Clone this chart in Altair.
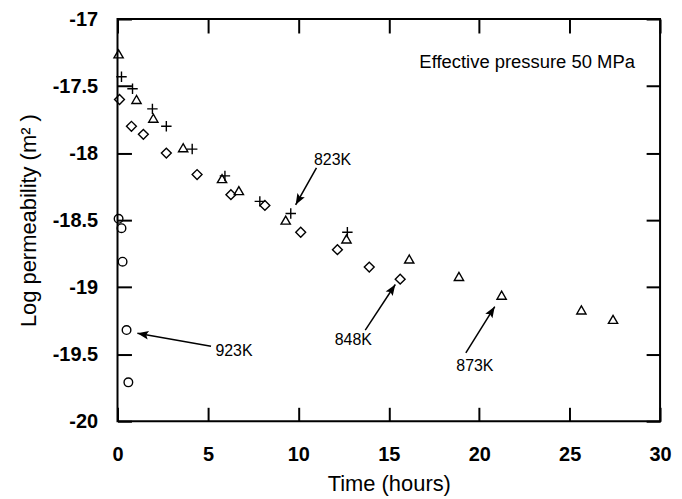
import math
import altair as alt
import pandas as pd

# ---- data ----
t873_x = [0.06, 1.05, 1.98, 3.63, 5.78, 6.71, 9.30, 12.66, 16.13, 18.88, 21.24, 25.65, 27.40]
t873_y = [-17.26, -17.60, -17.74, -17.96, -18.19, -18.28, -18.50, -18.64, -18.79, -18.92, -19.06, -19.17, -19.24]
p823_x = [0.22, 0.83, 1.93, 2.70, 4.13, 5.94, 7.87, 9.58, 12.71]
p823_y = [-17.43, -17.52, -17.67, -17.80, -17.97, -18.17, -18.36, -18.45, -18.59]
d848_x = [0.11, 0.77, 1.43, 2.70, 4.40, 6.27, 8.15, 10.13, 12.16, 13.92, 15.63]
d848_y = [-17.60, -17.80, -17.86, -18.00, -18.16, -18.31, -18.39, -18.59, -18.72, -18.85, -18.94]
c923_x = [0.06, 0.22, 0.28, 0.50, 0.60]
c923_y = [-18.49, -18.56, -18.81, -19.32, -19.71]

series_names = ["823K", "848K", "873K", "923K"]
x_ticks = [0, 5, 10, 15, 20, 25, 30]
y_ticks = [-20, -19.5, -19, -18.5, -18, -17.5, -17]

# annotation labels and arrows (tail -> tip), in data units
ann_labels = ["823K", "848K", "873K", "923K"]
ann_text_x = [11.89, 13.04, 19.76, 6.44]
ann_text_y = [-18.054, -19.395, -19.587, -19.477]
arrow_x1 = [11.0, 13.7, 19.26, 5.17]
arrow_y1 = [-18.11, -19.32, -19.49, -19.44]
arrow_x2 = [9.85, 15.36, 20.86, 1.10]
arrow_y2 = [-18.386, -18.98, -19.145, -19.344]
note_text = "Effective pressure 50 MPa"
note_x, note_y = 22.65, -17.317

W, H = 545, 404
XD, YD = [0, 30], [-20, -17]
FONT = "Liberation Sans"

rows = []
for name, xs, ys in [("823K", p823_x, p823_y), ("848K", d848_x, d848_y),
                     ("873K", t873_x, t873_y), ("923K", c923_x, c923_y)]:
    for a, b in zip(xs, ys):
        rows.append({"t": a, "k": b, "s": name})
pts = pd.DataFrame(rows)

ann = pd.DataFrame({"x": ann_text_x, "y": ann_text_y, "label": ann_labels})
angles = []
for a1, b1, a2, b2 in zip(arrow_x1, arrow_y1, arrow_x2, arrow_y2):
    dx = (a2 - a1) * W / (XD[1] - XD[0])
    dy = -(b2 - b1) * H / (YD[1] - YD[0])
    angles.append(math.degrees(math.atan2(dx, -dy)) % 360)
arr = pd.DataFrame({"x": arrow_x1, "y": arrow_y1, "x2": arrow_x2, "y2": arrow_y2, "ang": angles})
note = pd.DataFrame({"x": [note_x], "y": [note_y], "label": [note_text]})

xs = alt.Scale(domain=XD, nice=False, zero=False, padding=0)
ys = alt.Scale(domain=YD, nice=False, zero=False, padding=0)

TL = 14
x_axis = alt.Axis(values=x_ticks, domain=False, grid=False, tickSize=TL, tickWidth=2,
                  tickColor="black", offset=-TL, labelPadding=23, labelFont=FONT,
                  labelFontSize=20, labelFontWeight="bold", labelColor="black",
                  labelFlush=False, labelOverlap=False,
                  title="Time  (hours)", titleFont=FONT, titleFontSize=22,
                  titleFontWeight="normal", titleColor="black", titlePadding=10,
                  labelExpr="datum.value + ''")
y_axis = alt.Axis(values=y_ticks, domain=False, grid=False, tickSize=TL, tickWidth=2,
                  tickColor="black", offset=-TL, labelPadding=20, labelFont=FONT,
                  labelFontSize=20, labelFontWeight="bold", labelColor="black",
                  labelFlush=False, labelOverlap=False,
                  title="Log permeability (m² )", titleFont=FONT, titleFontSize=22,
                  titleFontWeight="normal", titleColor="black", titlePadding=12,
                  labelExpr="datum.value + ''")
x_top = alt.Axis(values=x_ticks, orient="top", domain=False, grid=False, tickSize=TL,
                 tickWidth=2, tickColor="black", offset=-TL, labels=False, title=None)
y_right = alt.Axis(values=y_ticks, orient="right", domain=False, grid=False, tickSize=TL,
                   tickWidth=2, tickColor="black", offset=-TL, labels=False, title=None)

cross = "M-1,0L1,0M0,-1L0,1"
points = alt.Chart(pts).mark_point(filled=False, color="black", strokeWidth=1.4, opacity=1).encode(
    x=alt.X("t:Q", scale=xs, axis=x_axis),
    y=alt.Y("k:Q", scale=ys, axis=y_axis),
    shape=alt.Shape("s:N", scale=alt.Scale(domain=series_names,
                    range=[cross, "diamond", "triangle-up", "circle"]), legend=None),
    size=alt.Size("s:N", scale=alt.Scale(domain=series_names, range=[110, 75, 95, 70]), legend=None),
)

frame_axes = alt.Chart(pts).mark_point(opacity=0).encode(
    x=alt.X("t:Q", scale=xs, axis=x_top),
    y=alt.Y("k:Q", scale=ys, axis=y_right),
)

lines = alt.Chart(arr).mark_rule(color="black", strokeWidth=1.5).encode(
    x=alt.X("x:Q", scale=xs, axis=None), y=alt.Y("y:Q", scale=ys, axis=None),
    x2="x2:Q", y2="y2:Q")
heads = alt.Chart(arr).mark_point(shape="M0,0L-0.38,1L0,0.8L0.38,1Z", filled=True,
                                  color="black", size=500, opacity=1).encode(
    x=alt.X("x2:Q", scale=xs, axis=None), y=alt.Y("y2:Q", scale=ys, axis=None),
    angle=alt.Angle("ang:Q", scale=None))
labels = alt.Chart(ann).mark_text(font=FONT, fontSize=16, color="black").encode(
    x=alt.X("x:Q", scale=xs, axis=None), y=alt.Y("y:Q", scale=ys, axis=None), text="label:N")
note_mark = alt.Chart(note).mark_text(font=FONT, fontSize=18.5, color="black").encode(
    x=alt.X("x:Q", scale=xs, axis=None), y=alt.Y("y:Q", scale=ys, axis=None), text="label:N")

chart = alt.layer(points, frame_axes, lines, heads, labels, note_mark).resolve_axis(
    x="independent", y="independent"
).properties(
    width=W, height=H,
    autosize=alt.AutoSizeParams(type="none"),
    padding={"left": 110, "top": 10, "right": 14, "bottom": 76},
    background="white",
).configure_view(stroke="black", strokeWidth=2)

chart.save("out.html", embed_options={"renderer": "svg", "actions": False})
